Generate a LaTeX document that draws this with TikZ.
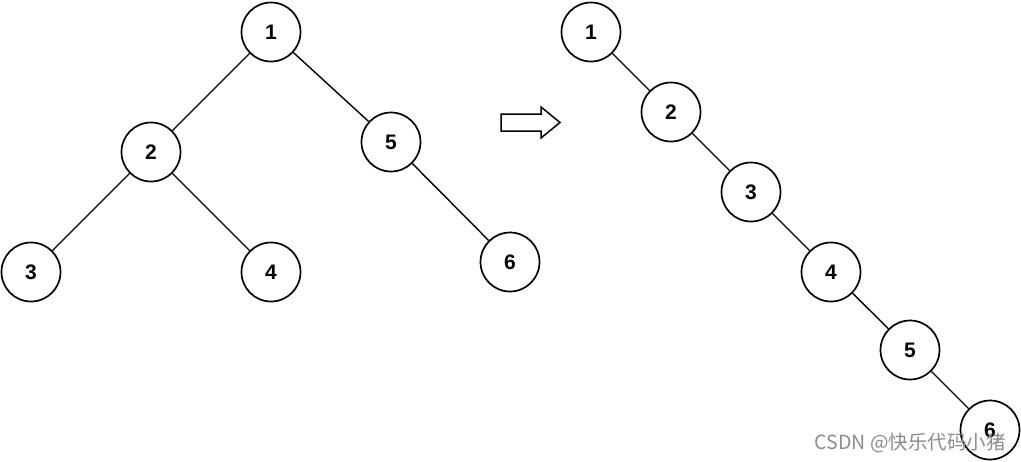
\documentclass[tikz,border=0pt]{standalone}
\usepackage{fontspec}
\setmainfont{Liberation Sans}
\newfontfamily\cjk{Noto Sans CJK SC}
\begin{document}
\begin{tikzpicture}[x=1pt,y=-1pt,
  tnode/.style={circle,draw,line width=1.7pt,minimum size=59pt,inner sep=0pt,fill=white,font=\fontsize{21}{21}\selectfont\bfseries},
  edge/.style={line width=1.4pt}]
\useasboundingbox (0,0) rectangle (1021,461);
% left tree
\node[tnode] (a1) at (271,32) {1};
\node[tnode] (a2) at (151,152) {2};
\node[tnode] (a3) at (31,272) {3};
\node[tnode] (a4) at (271,272) {4};
\node[tnode] (a5) at (391,142) {5};
\node[tnode] (a6) at (510,262) {6};
\draw[edge] (a1) -- (a2);
\draw[edge] (a1) -- (a5);
\draw[edge] (a2) -- (a3);
\draw[edge] (a2) -- (a4);
\draw[edge] (a5) -- (a6);
% arrow
\draw[line width=1.5pt,fill=white,line join=miter] (501,114) -- (541,114) -- (541,107) -- (560,122.5) -- (541,138) -- (541,131) -- (501,131) -- cycle;
% right chain
\node[tnode] (b1) at (591,32) {1};
\node[tnode] (b2) at (671,112) {2};
\node[tnode] (b3) at (751,192) {3};
\node[tnode] (b4) at (831,272) {4};
\node[tnode] (b5) at (910,350) {5};
\node[tnode] (b6) at (990,430) {6};
\draw[edge] (b1) -- (b2);
\draw[edge] (b2) -- (b3);
\draw[edge] (b3) -- (b4);
\draw[edge] (b4) -- (b5);
\draw[edge] (b5) -- (b6);
% watermark
\node[anchor=east,text=black!45,font=\cjk\fontsize{19.5}{19.5}\selectfont,inner sep=0pt] (wm) at (1006,443) {CSDN @快乐代码小猪};
\end{tikzpicture}
\end{document}
